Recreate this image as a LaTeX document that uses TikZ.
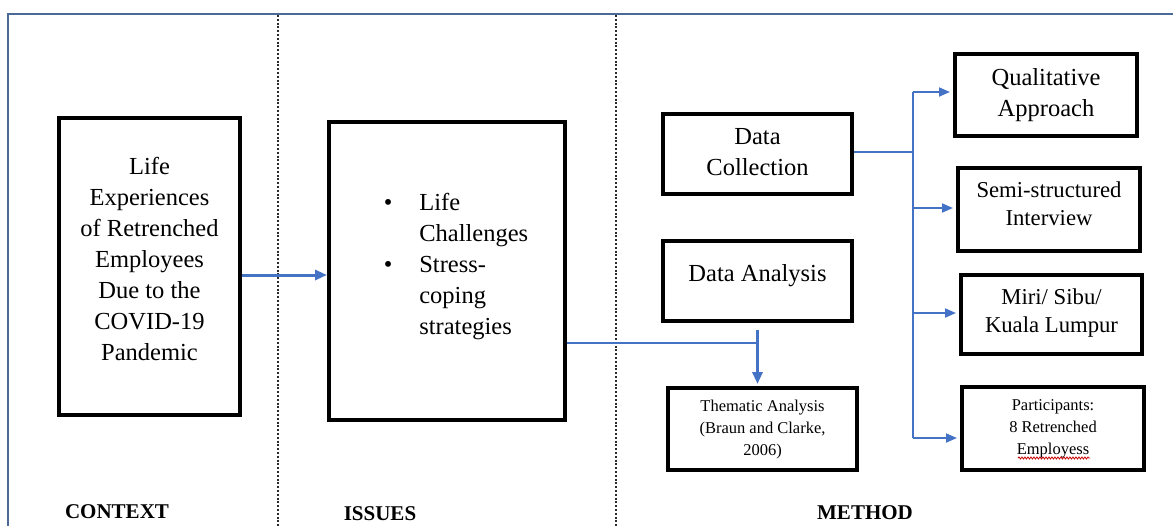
\documentclass[tikz,border=0pt]{standalone}
\usepackage{fontspec}
\setmainfont{Liberation Serif}
\newfontfamily\tnr{Liberation Serif}
\usetikzlibrary{arrows.meta,calc,decorations.pathmorphing}
\definecolor{arrowblue}{HTML}{4472C4}
\definecolor{framecol}{HTML}{4A6A95}
\definecolor{dotcol}{HTML}{2A2A2A}
\newcommand{\boxtext}[2]{\raisebox{#1}[\height][\depth]{\begin{tabular}{@{}c@{}}#2\end{tabular}}}
\begin{document}
\begin{tikzpicture}[x=1pt,y=-1pt,
  box/.style={draw=black, line width=4pt, inner sep=0pt, fill=white},
  bigfont/.style={font=\tnr\fontsize{24.5}{31}\selectfont},
  midfont/.style={font=\tnr\fontsize{22.7}{28}\selectfont},
  smallfont/.style={font=\tnr\fontsize{16.5}{22}\selectfont},
  lbl/.style={font=\tnr\fontsize{21}{25}\selectfont\bfseries, anchor=base},
  flow/.style={draw=arrowblue, line width=1.8pt},
  arr/.style={flow, -{Triangle[length=11pt,width=9pt]}, shorten >=1pt},
  bigarr/.style={draw=arrowblue, line width=3pt, -{Triangle[length=12pt,width=10pt]}},
  divider/.style={draw=dotcol, line width=2.4pt, dash pattern=on 2pt off 1.8pt},
  framestyle/.style={draw=framecol, line width=2pt},
]
\useasboundingbox (0,0) rectangle (1173,525);
\clip (0,0) rectangle (1173,525);
\fill[white] (0,0) rectangle (1173,525);

% frame and dividers
\draw[framestyle] (8,540) -- (8,14) -- (1190,14);
\draw[divider] (278,15) -- (278,530);
\draw[divider] (616,15) -- (616,530);

% boxes
\node[box, bigfont, minimum width=181pt, minimum height=297pt] (ctx) at (149.5,266.5)
  {\boxtext{5pt}{Life\\Experiences\\of Retrenched\\Employees\\Due to the\\COVID-19\\Pandemic}};
\node[box, bigfont, minimum width=236pt, minimum height=298pt] (iss) at (447,271)
  {\hspace*{18pt}\raisebox{5pt}[\height][\depth]{\begin{tabular}{@{}l@{\hspace{27pt}}l@{}}•&Life\\&Challenges\\•&Stress-\\&coping\\&strategies\end{tabular}}};
\node[box, bigfont, minimum width=189pt, minimum height=80pt] (dc) at (757.5,154)
  {\boxtext{0pt}{Data\\Collection}};
\node[box, bigfont, minimum width=189pt, minimum height=80pt] (da) at (757.5,281)
  {\boxtext{6pt}{Data Analysis}};
\node[box, smallfont, minimum width=189pt, minimum height=82pt] (ta) at (762.5,429)
  {\boxtext{0pt}{Thematic Analysis\\(Braun and Clarke,\\2006)}};
\node[box, bigfont, minimum width=182pt, minimum height=82pt] (qa) at (1046,95)
  {\boxtext{0pt}{Qualitative\\Approach}};
\node[box, midfont, minimum width=182pt, minimum height=83pt] (ssi) at (1049,209.5)
  {\boxtext{4pt}{Semi-structured\\Interview}};
\node[box, midfont, minimum width=181pt, minimum height=79pt] (loc) at (1051.5,314.5)
  {\boxtext{2pt}{Miri/ Sibu/\\Kuala Lumpur}};
\node[box, smallfont, minimum width=182pt, minimum height=83pt] (par) at (1053,428.5)
  {\boxtext{0pt}{Participants:\\8 Retrenched\\Employess}};
\draw[red!80!black, line width=0.8pt, decorate, decoration={snake, amplitude=1pt, segment length=3pt}]
  (1018,458) -- (1090,458);

% labels
\node[lbl] (lctx) at (117,518) {CONTEXT};
\node[lbl] (liss) at (380,520) {ISSUES};
\node[lbl] (lmet) at (865,519) {METHOD};

% connectors
\draw[bigarr] ([yshift=-8.5pt]ctx.east) -- ([yshift=-4pt]iss.west);

\coordinate (issout) at ([yshift=-72pt]iss.east);
\coordinate (j) at (issout -| da.south);
\draw[flow] (issout) -- (j);
\draw[bigarr] ([yshift=-7pt]da.south) -- ([yshift=2pt]ta.north -| da.south);

\coordinate (dcout) at ([yshift=2pt]dc.east);
\coordinate (b1) at (913,92);
\coordinate (b2) at (913,208);
\coordinate (b3) at (913,313);
\coordinate (b4) at (913,438);
\draw[flow] (dcout) -- (dcout -| b1);
\draw[flow] (b1) -- (b4);
\draw[arr] (b1) -- ([xshift=-2pt]b1 -| qa.west);
\draw[arr] (b2) -- ([xshift=-2pt]b2 -| ssi.west);
\draw[arr] (b3) -- ([xshift=-2pt]b3 -| loc.west);
\draw[arr] (b4) -- ([xshift=-2pt]b4 -| par.west);
\end{tikzpicture}
\end{document}
